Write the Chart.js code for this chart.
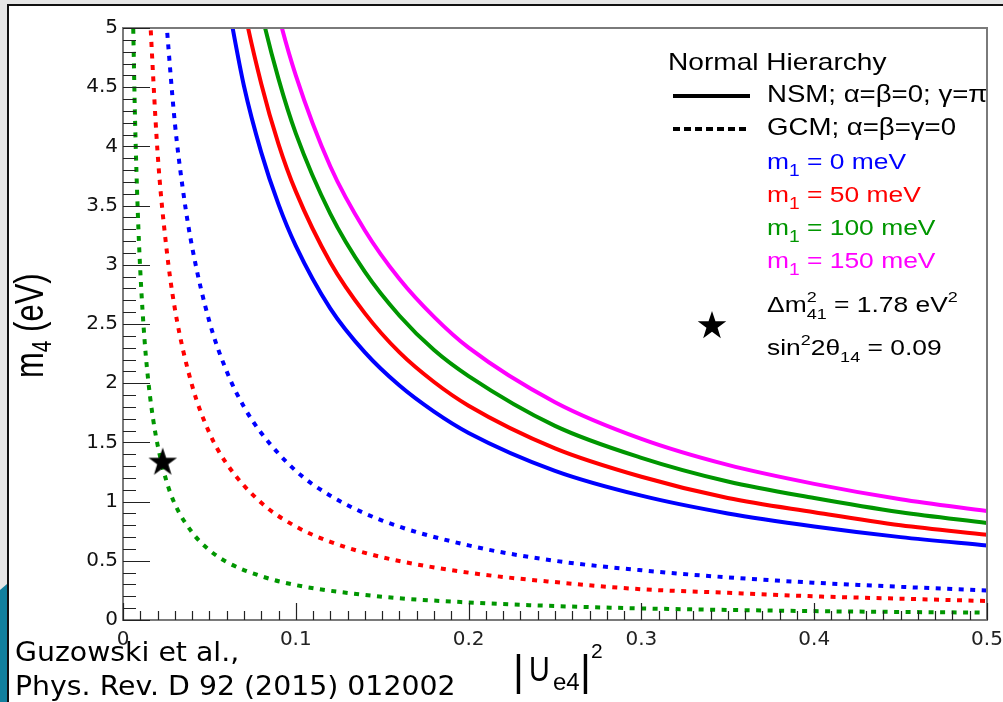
<!DOCTYPE html>
<html>
<head>
<meta charset="utf-8">
<script src="https://cdn.jsdelivr.net/npm/chart.js@4.4.1/dist/chart.umd.min.js"></script>
<style>
  html, body { margin: 0; padding: 0; background: #fff; }
  canvas { display: block; }
</style>
</head>
<body>
<canvas id="chart" width="1003" height="702"></canvas>
<script>
// --- values: m4 (eV) against |Ue4|^2 ---
const xTickLabels = ['0', '0.1', '0.2', '0.3', '0.4', '0.5'];
const yTickLabels = ['0', '0.5', '1', '1.5', '2', '2.5', '3', '3.5', '4', '4.5', '5'];

// NSM; alpha=beta=0; gamma=pi  (solid lines)
const uSolid  = [0.06, 0.07, 0.08, 0.09, 0.10, 0.12, 0.14, 0.16, 0.18, 0.20, 0.25, 0.30, 0.35, 0.40, 0.45, 0.50];
const nsm0    = [5.27, 4.51, 3.95, 3.51, 3.16, 2.63, 2.26, 1.98, 1.76, 1.58, 1.26, 1.05, 0.90, 0.79, 0.70, 0.63];
const nsm50   = [6.03, 5.17, 4.53, 4.02, 3.62, 3.02, 2.59, 2.26, 2.01, 1.81, 1.45, 1.21, 1.03, 0.91, 0.80, 0.72];
const nsm100  = [6.85, 5.87, 5.14, 4.57, 4.11, 3.43, 2.94, 2.57, 2.28, 2.06, 1.64, 1.37, 1.17, 1.03, 0.91, 0.82];
const nsm150  = [7.67, 6.57, 5.75, 5.11, 4.60, 3.83, 3.29, 2.88, 2.56, 2.30, 1.84, 1.53, 1.31, 1.15, 1.02, 0.92];

// GCM; alpha=beta=gamma=0  (dotted lines)
const uGcm0   = [0.024, 0.03, 0.035, 0.04, 0.05, 0.06, 0.07, 0.08, 0.10, 0.12, 0.15, 0.20, 0.25, 0.30, 0.35, 0.40, 0.45, 0.50];
const gcm0    = [5.25, 4.20, 3.60, 3.15, 2.52, 2.10, 1.80, 1.58, 1.26, 1.05, 0.84, 0.63, 0.50, 0.42, 0.36, 0.315, 0.28, 0.25];
const uGcm50  = [0.015, 0.02, 0.025, 0.03, 0.04, 0.05, 0.06, 0.08, 0.10, 0.12, 0.15, 0.20, 0.25, 0.30, 0.35, 0.40, 0.45, 0.50];
const gcm50   = [5.27, 3.95, 3.16, 2.63, 1.98, 1.58, 1.32, 0.99, 0.79, 0.66, 0.53, 0.40, 0.32, 0.26, 0.23, 0.20, 0.18, 0.16];
const uGcm100 = [0.0058, 0.007, 0.0085, 0.01, 0.0125, 0.015, 0.0175, 0.02, 0.025, 0.03, 0.04, 0.05, 0.06, 0.08, 0.10, 0.15, 0.20, 0.25, 0.30, 0.40, 0.50];
const gcm100  = [5.09, 4.21, 3.47, 2.95, 2.36, 1.97, 1.69, 1.48, 1.18, 0.98, 0.74, 0.59, 0.49, 0.37, 0.295, 0.197, 0.148, 0.118, 0.098, 0.075, 0.062];

// best-fit point (dm41^2 = 1.78 eV^2, sin^2 2theta14 = 0.09)
const starU = [0.023];
const starM = [1.33];

const massLabels = ['0', '50', '100', '150'];
const massColors = ['#0000ff', '#ff0000', '#009600', '#ff00ff'];

const pts = (u, m) => u.map((x, i) => ({ x, y: m[i] }));

// filled five point star, used as the point style
function makeStar(r) {
  const c = document.createElement('canvas');
  const s = Math.ceil(r * 2) + 2;
  c.width = s; c.height = s;
  const g = c.getContext('2d');
  g.translate(s / 2, s / 2);
  g.beginPath();
  for (let i = 0; i < 10; i++) {
    const rad = i % 2 ? r * 0.39 : r;
    const a = -Math.PI / 2 + i * Math.PI / 5;
    g.lineTo(rad * Math.cos(a), rad * Math.sin(a));
  }
  g.closePath();
  g.fillStyle = '#000';
  g.fill();
  return c;
}
const starImg = makeStar(15);

function solid(u, m, color) {
  return { data: pts(u, m), borderColor: color, borderWidth: 4, showLine: true, pointRadius: 0,
           cubicInterpolationMode: 'monotone', clip: 0 };
}
function dotted(u, m, color) {
  return { data: pts(u, m), borderColor: color, borderWidth: 4, showLine: true, pointRadius: 0,
           borderDash: [5, 6.5], cubicInterpolationMode: 'monotone', clip: 0 };
}

// --- text helper: runs of text with sizes / offsets, optional horizontal stretch ---
function drawRich(ctx, x, y, parts, color, sx = 1, family = 'Liberation Sans') {
  ctx.save();
  ctx.translate(x, y);
  ctx.scale(sx, 1);
  ctx.fillStyle = color;
  ctx.textAlign = 'left';
  ctx.textBaseline = 'alphabetic';
  let cx = 0;
  for (const p of parts) {
    ctx.font = `${p.s}px "${p.f || family}"`;
    ctx.fillText(p.t, cx, p.dy || 0);
    if (!p.noAdv) cx += ctx.measureText(p.t).width;
  }
  ctx.restore();
}

// slide background bits behind the plot
const slideBg = {
  id: 'slideBg',
  beforeDraw(chart) {
    const ctx = chart.ctx;
    ctx.save();
    ctx.fillStyle = '#fff';
    ctx.fillRect(0, 0, 1003, 702);
    ctx.fillStyle = '#e6e6e6';
    ctx.fillRect(0, 0, 1003, 4);
    ctx.fillRect(0, 0, 7, 702);
    ctx.fillStyle = '#12809e';
    ctx.beginPath();
    ctx.moveTo(0, 590); ctx.lineTo(7, 584); ctx.lineTo(7, 702); ctx.lineTo(0, 702);
    ctx.closePath(); ctx.fill();
    ctx.fillStyle = '#111';
    ctx.fillRect(7, 4, 1003, 2);
    ctx.fillRect(7, 4, 2, 698);
    ctx.restore();
  }
};

// frame, inward ticks, titles, legend
const decor = {
  id: 'decor',
  afterDraw(chart) {
    const ctx = chart.ctx;
    const { left, right, top, bottom } = chart.chartArea;
    const xs = chart.scales.x, ys = chart.scales.y;
    ctx.save();

    ctx.strokeStyle = '#7a7a7a';
    ctx.lineWidth = 2;
    ctx.strokeRect(left, top, right - left, bottom - top);

    ctx.strokeStyle = '#222';
    ctx.lineWidth = 1.2;
    ctx.beginPath();
    for (let i = 0; i <= 50; i++) {
      const py = Math.round(ys.getPixelForValue(i / 10)) + 0.5;
      const len = i % 5 === 0 ? 27 : 13;
      ctx.moveTo(left, py); ctx.lineTo(left + len, py);
      const px = Math.round(xs.getPixelForValue(i / 100)) + 0.5;
      const hl = i % 10 === 0 ? 17 : 9;
      ctx.moveTo(px, bottom); ctx.lineTo(px, bottom - hl);
    }
    ctx.stroke();

    // x title |Ue4|^2
    drawRich(ctx, 513, 685, [{ t: '|', s: 42 }], '#000');
    drawRich(ctx, 529, 681, [{ t: 'U', s: 35 }], '#000', 0.82);
    drawRich(ctx, 553, 690, [{ t: 'e4', s: 24 }], '#000');
    drawRich(ctx, 580, 685, [{ t: '|', s: 42 }], '#000');
    drawRich(ctx, 591, 658, [{ t: '2', s: 21 }], '#000');

    // y title m4 (eV)
    ctx.save();
    ctx.translate(43, 378);
    ctx.rotate(-Math.PI / 2);
    ctx.scale(1, 1.3);
    drawRich(ctx, 0, 0, [{ t: 'm', s: 31 }, { t: '4', s: 21, dy: 6 }, { t: ' (eV)', s: 31 }], '#000');
    ctx.restore();

    // citation
    drawRich(ctx, 15, 661, [{ t: 'Guzowski et al.,', s: 27 }], '#000', 1.05, 'DejaVu Sans');
    drawRich(ctx, 15, 695, [{ t: 'Phys. Rev. D 92 (2015) 012002', s: 27 }], '#000', 1.05, 'DejaVu Sans');

    // legend
    drawRich(ctx, 668, 70, [{ t: 'Normal Hierarchy', s: 24 }], '#000', 1.17);
    ctx.strokeStyle = '#000';
    ctx.lineWidth = 4;
    ctx.beginPath(); ctx.moveTo(673, 96); ctx.lineTo(750, 96); ctx.stroke();
    ctx.setLineDash([7, 4]);
    ctx.beginPath(); ctx.moveTo(673, 129); ctx.lineTo(750, 129); ctx.stroke();
    ctx.setLineDash([]);
    drawRich(ctx, 767, 102, [{ t: 'NSM; α=β=0; γ=π', s: 24 }], '#000', 1.15);
    drawRich(ctx, 767, 135, [{ t: 'GCM; α=β=γ=0', s: 24 }], '#000', 1.15);
    massLabels.forEach((lab, i) => {
      drawRich(ctx, 767, 169 + i * 33, [{ t: 'm', s: 22 }, { t: '1', s: 16, dy: 7 }, { t: ' = ' + lab + ' meV', s: 22 }],
               massColors[i], 1.2);
    });
    ctx.drawImage(starImg, 712 - starImg.width / 2, 326 - starImg.height / 2);
    drawRich(ctx, 767, 312, [{ t: 'Δm', s: 22 }, { t: '2', s: 15, dy: -10, noAdv: true }, { t: '41', s: 15, dy: 7 },
                             { t: ' = 1.78 eV', s: 22 }, { t: '2', s: 15, dy: -10 }], '#000', 1.2);
    drawRich(ctx, 767, 355, [{ t: 'sin', s: 22 }, { t: '2', s: 15, dy: -10 }, { t: '2θ', s: 22 }, { t: '14', s: 15, dy: 7 },
                             { t: ' = 0.09', s: 22 }], '#000', 1.2);
    ctx.restore();
  }
};

new Chart(document.getElementById('chart'), {
  type: 'scatter',
  data: {
    datasets: [
      { data: pts(starU, starM), pointStyle: starImg, pointRadius: 15, showLine: false, clip: 0 },
      solid(uSolid, nsm0, massColors[0]),
      solid(uSolid, nsm50, massColors[1]),
      solid(uSolid, nsm100, massColors[2]),
      solid(uSolid, nsm150, massColors[3]),
      dotted(uGcm0, gcm0, massColors[0]),
      dotted(uGcm50, gcm50, massColors[1]),
      dotted(uGcm100, gcm100, massColors[2])
    ]
  },
  options: {
    responsive: false,
    animation: false,
    devicePixelRatio: 1,
    layout: { padding: { left: 0, top: 28, right: 7, bottom: 0 } },
    plugins: { legend: { display: false }, tooltip: { enabled: false } },
    scales: {
      x: {
        type: 'linear', min: 0, max: 0.5,
        grid: { display: false, drawTicks: false },
        border: { display: false },
        ticks: {
          stepSize: 0.1, padding: 8, maxRotation: 0, autoSkip: false, color: '#222',
          font: { family: '"DejaVu Sans"', size: 20 },
          callback: (v, i) => xTickLabels[i]
        },
        afterFit: s => { s.height = 82; s.paddingLeft = 0; s.paddingRight = 0; }
      },
      y: {
        type: 'linear', min: 0, max: 5,
        grid: { display: false, drawTicks: false },
        border: { display: false },
        ticks: {
          stepSize: 0.5, padding: 5, autoSkip: false, color: '#111',
          font: { family: '"DejaVu Sans"', size: 20 },
          callback: (v, i) => yTickLabels[i]
        },
        afterFit: s => { s.width = 123; s.paddingTop = 0; s.paddingBottom = 0; }
      }
    }
  },
  plugins: [slideBg, decor]
});
</script>
</body>
</html>
